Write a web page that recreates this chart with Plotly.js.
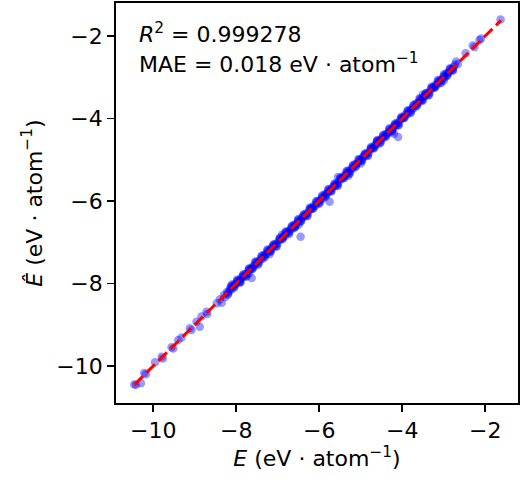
<!DOCTYPE html>
<html>
<head>
<meta charset="utf-8">
<script src="https://cdn.plot.ly/plotly-3.0.1.min.js"></script>
<style>html,body{margin:0;padding:0;background:#fff;}</style>
</head>
<body>
<div id="chart" style="width:520px;height:486px;"></div>
<script>
// Dense band of test structures: true energy E and predicted energy Ê (eV/atom)
const bandE = [-8.22,-8.18,-8.15,-8.11,-8.07,-8.04,-8.00,-7.96,-7.93,-7.89,-7.85,-7.82,-7.78,-7.74,-7.71,-7.67,-7.63,-7.60,-7.56,-7.52,-7.49,-7.45,-7.41,-7.38,-7.34,-7.30,-7.27,-7.23,-7.19,-7.16,-7.12,-7.08,-7.05,-7.01,-6.97,-6.94,-6.90,-6.86,-6.83,-6.79,-6.75,-6.72,-6.68,-6.64,-6.61,-6.57,-6.53,-6.50,-6.46,-6.42,-6.39,-6.35,-6.31,-6.28,-6.24,-6.20,-6.17,-6.13,-6.09,-6.06,-6.02,-5.98,-5.95,-5.91,-5.87,-5.84,-5.80,-5.76,-5.73,-5.69,-5.65,-5.62,-5.58,-5.54,-5.51,-5.47,-5.43,-5.40,-5.36,-5.32,-5.29,-5.25,-5.21,-5.18,-5.14,-5.10,-5.07,-5.03,-4.99,-4.96,-4.92,-4.88,-4.85,-4.81,-4.77,-4.74,-4.70,-4.66,-4.63,-4.59,-4.55,-4.52,-4.48,-4.44,-4.41,-4.37,-4.33,-4.30,-4.26,-4.22,-4.19,-4.15,-4.11,-4.08,-4.04,-4.00,-3.97,-3.93,-3.89,-3.86,-3.82,-3.78,-3.75,-3.71,-3.67,-3.64,-3.60,-3.56,-3.53,-3.49,-3.45,-3.42,-3.38,-3.34,-3.31,-3.27,-3.23,-3.20,-3.16,-3.12,-3.09,-3.05,-3.01,-2.98,-2.94,-2.90,-2.87,-2.83,-2.79,-2.76];
const bandEhat = [-8.20,-8.20,-8.14,-8.14,-8.04,-8.04,-8.01,-7.94,-7.95,-7.88,-7.83,-7.84,-7.77,-7.77,-7.68,-7.67,-7.64,-7.58,-7.58,-7.51,-7.47,-7.47,-7.40,-7.41,-7.31,-7.30,-7.28,-7.21,-7.21,-7.15,-7.10,-7.10,-7.04,-7.04,-6.94,-6.94,-6.91,-6.84,-6.85,-6.78,-6.73,-6.74,-6.67,-6.67,-6.58,-6.57,-6.54,-6.48,-6.48,-6.41,-6.37,-6.37,-6.30,-6.31,-6.21,-6.20,-6.18,-6.11,-6.11,-6.05,-6.00,-6.00,-5.94,-5.94,-5.84,-5.84,-5.81,-5.74,-5.75,-5.68,-5.63,-5.64,-5.57,-5.57,-5.48,-5.47,-5.44,-5.38,-5.38,-5.31,-5.27,-5.27,-5.20,-5.21,-5.11,-5.10,-5.08,-5.01,-5.01,-4.95,-4.90,-4.90,-4.84,-4.84,-4.74,-4.74,-4.71,-4.64,-4.65,-4.58,-4.53,-4.54,-4.47,-4.47,-4.38,-4.37,-4.34,-4.28,-4.28,-4.21,-4.17,-4.17,-4.10,-4.11,-4.01,-4.00,-3.98,-3.91,-3.91,-3.85,-3.80,-3.80,-3.74,-3.74,-3.64,-3.64,-3.61,-3.54,-3.55,-3.48,-3.43,-3.44,-3.37,-3.37,-3.28,-3.27,-3.24,-3.18,-3.18,-3.11,-3.07,-3.07,-3.00,-3.01,-2.91,-2.90,-2.88,-2.81,-2.81,-2.75];

// Band structures with somewhat larger errors (fringe of the band)
const fringeE = [-8.20,-8.13,-8.05,-7.98,-7.91,-7.83,-7.76,-7.69,-7.61,-7.54,-7.47,-7.39,-7.32,-7.25,-7.17,-7.10,-7.03,-6.95,-6.88,-6.81,-6.73,-6.66,-6.59,-6.51,-6.44,-6.37,-6.29,-6.22,-6.15,-6.07,-6.00,-5.93,-5.85,-5.78,-5.71,-5.63,-5.56,-5.49,-5.41,-5.34,-5.27,-5.19,-5.12,-5.05,-4.97,-4.90,-4.83,-4.75,-4.68,-4.61,-4.53,-4.46,-4.39,-4.31,-4.24,-4.17,-4.09,-4.02,-3.95,-3.87,-3.80,-3.73,-3.65,-3.58,-3.51,-3.43,-3.36,-3.29,-3.21,-3.14,-3.07,-2.99,-2.92,-2.85,-2.78];
const fringeEhat = [-8.25,-8.09,-8.08,-7.93,-7.95,-7.80,-7.82,-7.65,-7.63,-7.49,-7.52,-7.35,-7.35,-7.20,-7.21,-7.07,-7.09,-6.91,-6.90,-6.76,-6.78,-6.62,-6.62,-6.46,-6.48,-6.34,-6.35,-6.18,-6.17,-6.02,-6.05,-5.89,-5.88,-5.73,-5.75,-5.60,-5.62,-5.45,-5.43,-5.29,-5.32,-5.15,-5.15,-5.00,-5.01,-4.87,-4.89,-4.71,-4.70,-4.56,-4.58,-4.42,-4.42,-4.26,-4.28,-4.14,-4.15,-3.98,-3.97,-3.82,-3.85,-3.69,-3.68,-3.53,-3.55,-3.40,-3.42,-3.25,-3.23,-3.09,-3.12,-2.95,-2.95,-2.80,-2.82];
const fringeEhat2 = [-8.27,-8.07,-8.10,-7.91,-7.97,-7.78,-7.84,-7.63,-7.65,-7.47,-7.54,-7.33,-7.37,-7.18,-7.23,-7.05,-7.11,-6.89,-6.92,-6.74,-6.80,-6.60,-6.64,-6.44,-6.50,-6.32,-6.37,-6.16,-6.19,-6.00,-6.07,-5.87,-5.90,-5.71,-5.77,-5.58,-5.64,-5.43,-5.45,-5.27,-5.34,-5.13,-5.17,-4.98,-5.03,-4.85,-4.91,-4.69,-4.72,-4.54,-4.60,-4.40,-4.44,-4.24,-4.30,-4.12,-4.17,-3.96,-3.99,-3.80,-3.87,-3.67,-3.70,-3.51,-3.57,-3.38,-3.44,-3.23,-3.25,-3.07,-3.14,-2.93,-2.97,-2.78,-2.84];

// Sparse structures at both ends and the visible outliers
const sparseE = [-10.46,-10.42,-10.30,-10.22,-10.18,-9.96,-9.80,-9.77,-9.56,-9.52,-9.40,-9.32,-9.12,-9.08,-8.88,-8.96,-8.84,-8.72,-8.70,-8.47,-8.35,-8.40,-8.30,-8.27,
  -7.63,-7.70,-6.45,-6.59,-6.50,-5.75,-5.55,-4.10,-4.20,-4.25,-3.00,-5.00,-7.20,-6.90,-4.60,-3.50,-5.30,-7.90,-8.10,
  -2.70,-2.73,-2.66,-2.47,-2.30,-2.26,-2.14,-2.10,-1.63];
const sparseEhat = [-10.45,-10.46,-10.42,-10.17,-10.20,-9.91,-9.78,-9.82,-9.55,-9.58,-9.37,-9.31,-9.09,-9.13,-9.05,-8.93,-8.80,-8.69,-8.74,-8.48,-8.47,-8.39,-8.28,-8.33,
  -7.87,-7.76,-6.87,-6.64,-6.58,-6.02,-5.42,-4.45,-4.37,-4.33,-3.08,-5.09,-7.29,-6.82,-4.52,-3.42,-5.39,-7.98,-8.02,
  -2.62,-2.70,-2.68,-2.42,-2.23,-2.27,-2.10,-2.06,-1.60];

// Parity line (min to max of the data)
const parityLine = [-10.46, -1.62];

const tickVals = [-10, -8, -6, -4, -2];
const tickLabels = ['\u221210', '\u22128', '\u22126', '\u22124', '\u22122'];

const r2Text = '<i>R</i><sup>2</sup> = 0.999278';
const maeText = 'MAE = 0.018 eV \u00b7 atom<sup>\u22121</sup>';

const markerStyle = {color: '#0000ff', opacity: 0.4, size: 8.5, line: {width: 0}};

const traces = [
  {x: fringeE, y: fringeEhat2, type: 'scatter', mode: 'markers', marker: markerStyle, hoverinfo: 'skip'},
  {x: fringeE, y: fringeEhat, type: 'scatter', mode: 'markers', marker: markerStyle, hoverinfo: 'skip'},
  {x: bandE, y: bandEhat, type: 'scatter', mode: 'markers', marker: markerStyle, hoverinfo: 'skip'},
  {x: sparseE, y: sparseEhat, type: 'scatter', mode: 'markers', marker: markerStyle, hoverinfo: 'skip'},
  {x: parityLine, y: parityLine, type: 'scatter', mode: 'lines', line: {color: '#ff0000', width: 3, dash: '12px,5px'}, hoverinfo: 'skip'}
];

const axisCommon = {
  tickvals: tickVals, ticktext: tickLabels,
  ticks: 'outside', ticklen: 7, tickwidth: 1.8, tickcolor: '#000',
  showline: true, linewidth: 1.8, linecolor: '#000', mirror: true,
  showgrid: false, zeroline: false, automargin: false,
  tickfont: {family: 'DejaVu Sans', size: 22, color: '#000'}
};

const layout = {
  width: 520, height: 486,
  margin: {l: 116, r: 2, t: 3, b: 83, pad: 0},
  paper_bgcolor: '#fff', plot_bgcolor: '#fff',
  showlegend: false,
  font: {family: 'DejaVu Sans', size: 22, color: '#000'},
  xaxis: Object.assign({}, axisCommon, {
    range: [-10.9, -1.21],
    title: {text: '<i>E</i> (eV \u00b7 atom<sup>\u22121</sup>)', font: {size: 22}, standoff: 6}
  }),
  yaxis: Object.assign({}, axisCommon, {
    range: [-10.9, -1.2],
    title: {text: '<i>\u00ca</i> (eV \u00b7 atom<sup>\u22121</sup>)', font: {size: 22}, standoff: 8}
  }),
  annotations: [
    {xref: 'paper', yref: 'paper', x: 0.052, y: 0.924, xanchor: 'left', yanchor: 'middle', text: r2Text, showarrow: false, font: {size: 22}},
    {xref: 'paper', yref: 'paper', x: 0.052, y: 0.851, xanchor: 'left', yanchor: 'middle', text: maeText, showarrow: false, font: {size: 22}}
  ]
};

Plotly.newPlot('chart', traces, layout, {displayModeBar: false, staticPlot: true});
</script>
</body>
</html>
